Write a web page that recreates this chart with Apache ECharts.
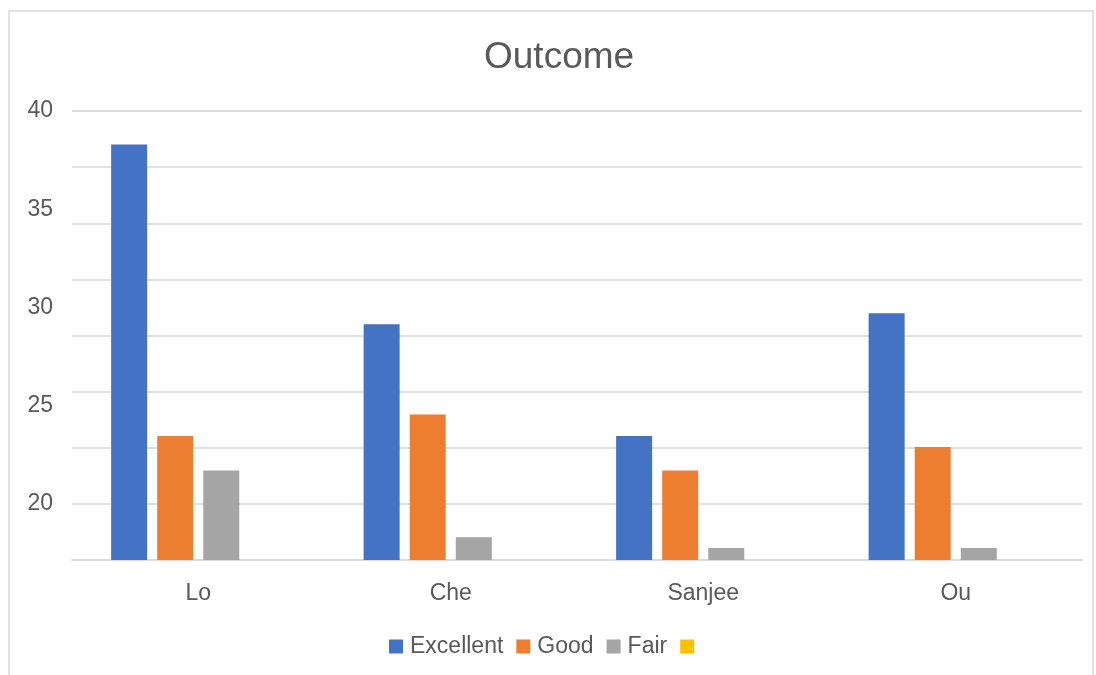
<!doctype html>
<html>
<head>
	<meta charset="utf-8">
	<title>Outcome</title>
	<script src="https://cdn.jsdelivr.net/npm/echarts@6/dist/echarts.min.js"></script>
	<style>
		html, body { margin: 0; padding: 0; background: #fff; }
		#container { width: 1096px; height: 675px; }
	</style>
</head>
<body>
	<div id="container"></div>
</body>
</html>
<script type="text/javascript">
	var categories = ['Lo', 'Che', 'Sanjee', 'Ou'];
	var excellent = [38.3, 29.15, 23.45, 29.7];
	var good = [23.45, 24.55, 21.7, 22.9];
	var fair = [21.7, 18.3, 17.75, 17.75];
	var blank = [null, null, null, null];
	var yLabels = [20, 25, 30, 35, 40];

	var font = 'Liberation Sans, Arial, sans-serif';
	var textColor = '#595959';
	var lineColor = '#d9d9d9';
	var step = 20 / 7;

	var option = {
		animation: false,
		textStyle: { fontFamily: font },
		title: {
			text: 'Outcome',
			left: 484,
			top: 39,
			padding: 0,
			textStyle: { fontSize: 37, fontWeight: 'normal', color: textColor, fontFamily: font }
		},
		graphic: [{
			type: 'rect',
			shape: { x: 9, y: 11, width: 1084, height: 720 },
			style: { fill: 'none', stroke: lineColor, lineWidth: 1.5 },
			silent: true
		}],
		legend: {
			top: 630,
			left: 384,
			icon: 'rect',
			itemWidth: 14,
			itemHeight: 14,
			itemGap: 13,
			textStyle: { fontSize: 23, color: textColor, fontFamily: font, padding: [0, 0, 0, 2] },
			data: ['Excellent', 'Good', 'Fair', ' ']
		},
		grid: { left: 72, right: 14, top: 111, bottom: 115 },
		xAxis: {
			type: 'category',
			data: categories,
			axisLine: { lineStyle: { color: lineColor, width: 1.5 } },
			axisTick: { show: false },
			axisLabel: { fontSize: 23, color: textColor, margin: 22 }
		},
		yAxis: {
			type: 'value',
			min: 6 * step,
			max: 40,
			interval: step,
			axisLine: { show: false },
			axisTick: { show: false },
			splitLine: { lineStyle: { color: lineColor, width: 1.5 } },
			axisLabel: {
				fontSize: 23,
				color: textColor,
				margin: 19,
				padding: [4, 0, 0, 0],
				customValues: yLabels
			}
		},
		series: [
			{ name: 'Excellent', type: 'bar', data: excellent, barWidth: 36, barGap: '28%', itemStyle: { color: '#4472C4' } },
			{ name: 'Good', type: 'bar', data: good, barWidth: 36, barGap: '28%', itemStyle: { color: '#ED7D31' } },
			{ name: 'Fair', type: 'bar', data: fair, barWidth: 36, barGap: '28%', itemStyle: { color: '#A5A5A5' } },
			{ name: ' ', type: 'bar', data: blank, barWidth: 36, barGap: '28%', itemStyle: { color: '#FFC000' } }
		]
	};

	var myChart = echarts.init(document.getElementById('container'));
	myChart.setOption(option);
</script>
